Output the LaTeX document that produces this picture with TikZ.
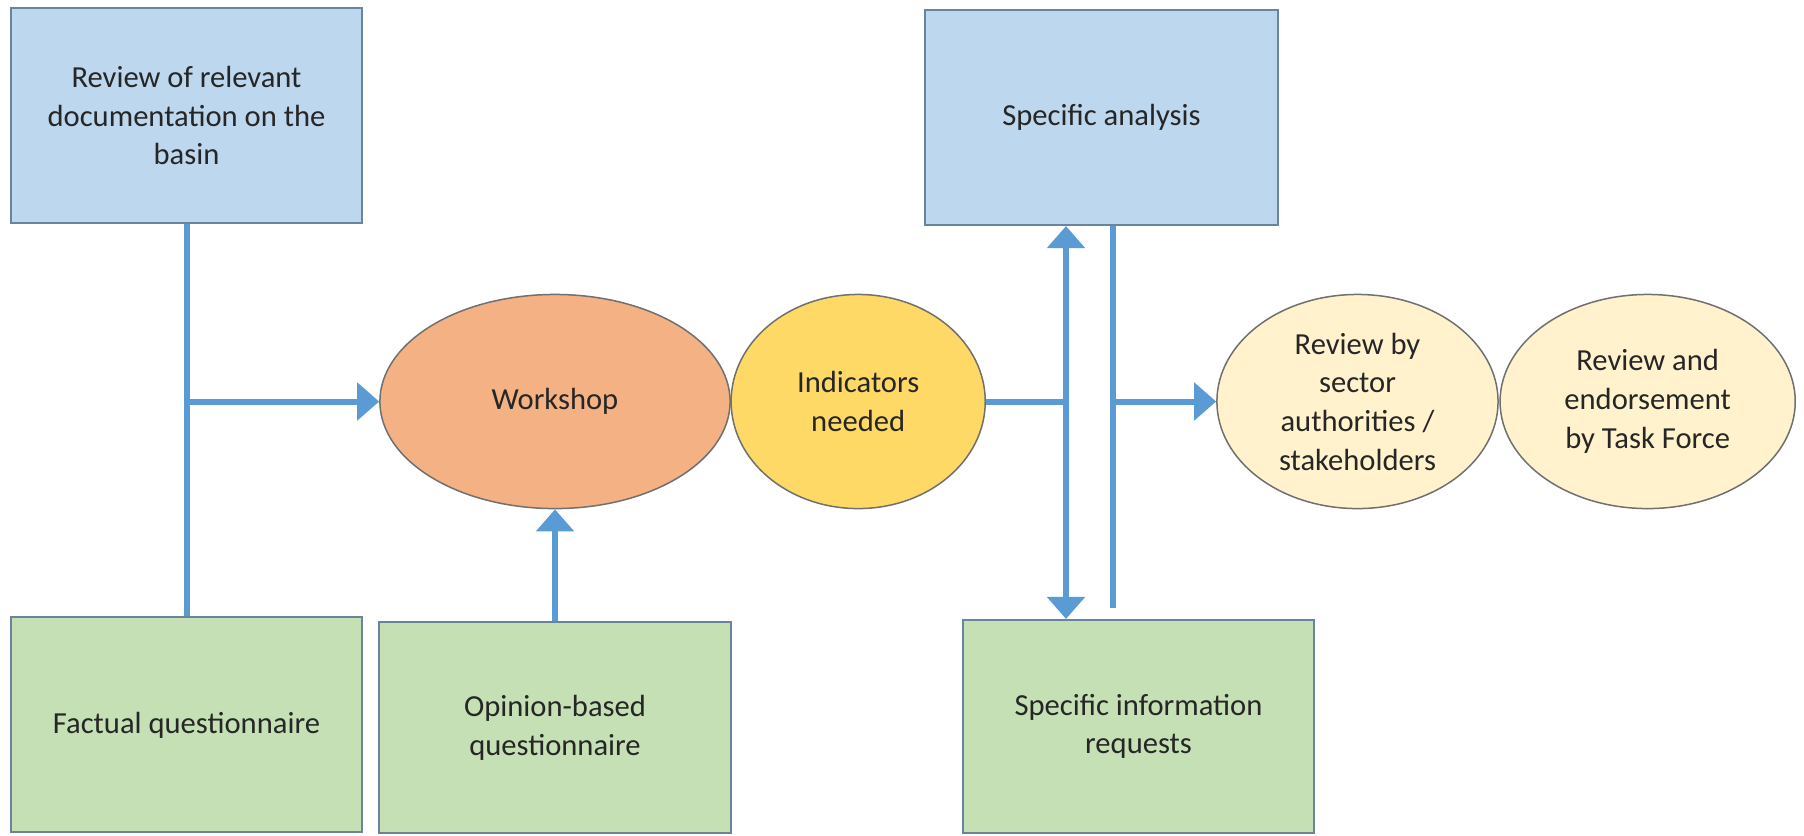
\documentclass[tikz,border=0pt]{standalone}
\usepackage{fontspec}
\setmainfont{Carlito}
\usetikzlibrary{shapes.geometric,arrows.meta,positioning}
\definecolor{boxblue}{HTML}{BDD7EE}
\definecolor{boxgreen}{HTML}{C5E0B4}
\definecolor{workorange}{HTML}{F4B183}
\definecolor{indyellow}{HTML}{FFD966}
\definecolor{revcream}{HTML}{FFF2CC}
\definecolor{linkblue}{HTML}{5B9BD5}
\definecolor{boxedge}{HTML}{6A849E}
\definecolor{ovaledge}{HTML}{707070}
\tikzset{
  txt/.style={font=\fontsize{8.7}{11}\selectfont, text=black!85, align=center, inner sep=0pt},
  box/.style={txt, draw=boxedge, line width=0.02cm, rectangle, minimum width=3.51cm, minimum height=2.15cm},
  oval/.style={txt, draw=ovaledge, line width=0.015cm, ellipse, minimum height=2.14cm},
  link/.style={draw=linkblue, line width=0.06cm},
  arr/.style={link, arrows=-{Triangle[width=0.37cm,length=0.22cm]}},
  dblarr/.style={link, arrows={Triangle[width=0.37cm,length=0.22cm]}-{Triangle[width=0.37cm,length=0.22cm]}}
}
\begin{document}
\begin{tikzpicture}[x=0.01cm, y=-0.01cm, auto]
\useasboundingbox[fill=white] (0,0) rectangle (1804,835);
\node (docs)[box, fill=boxblue] at (186.5,115.5) {Review of relevant\\documentation on the\\basin};
\node (fact)[box, fill=boxgreen, node distance=6.09cm] [below of = docs] {Factual questionnaire};
\node (work)[oval, fill=workorange, minimum width=3.50cm] at (555,401.5) {Workshop};
\node (opin)[box, fill=boxgreen, minimum height=2.11cm] at (555,727.5) {Opinion-based\\questionnaire};
\node (ind)[oval, fill=indyellow, minimum width=2.54cm, node distance=3.03cm] [right of = work] {Indicators\\needed};
\node (rev1)[oval, fill=revcream, minimum width=2.81cm, node distance=4.99cm] [right of = ind] {Review by\\sector\\authorities /\\stakeholders};
\node (rev2)[oval, fill=revcream, minimum width=2.95cm, node distance=2.90cm] [right of = rev1] {Review and\\endorsement\\by Task Force};
\node (anal)[box, fill=boxblue, minimum width=3.53cm] at (1101.5,117.5) {Specific analysis};
\node (info)[box, fill=boxgreen, minimum height=2.13cm] at (1138.5,726.5) {Specific information\\requests};
\coordinate (split) at (1066,401.5);
\coordinate (join) at (1113,401.5);
\coordinate (stub) at (1113,608);
% left side inputs
\draw[link] (docs.south) -- (fact.north);
\draw[arr] (docs.south |- work.west) -- (work.west);
\draw[arr] (opin.north) -- (work.south);
% specific analysis / information requests
\draw[link] (ind.east) -- (split);
\draw[dblarr] (split |- anal.south) -- (split |- info.north);
\draw[link] (join |- anal.south) -- (stub);
\draw[arr] (join) -- (rev1.west);
\end{tikzpicture}
\end{document}
